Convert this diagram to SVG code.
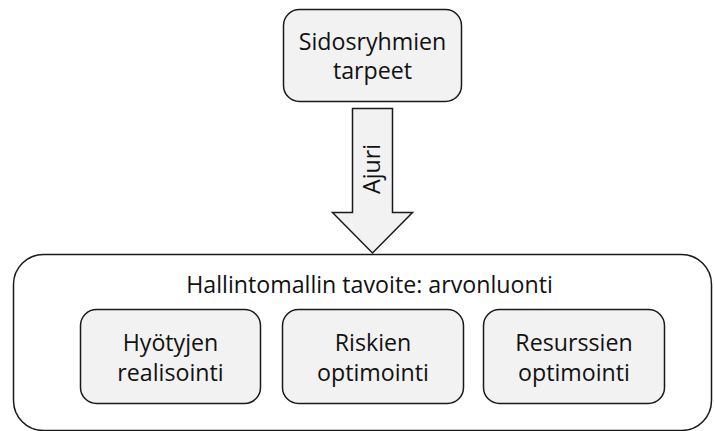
<svg xmlns="http://www.w3.org/2000/svg" width="714" height="431" viewBox="0 0 714 431">
<style>
.box{fill:#f2f2f2;stroke:#1a1a1a;stroke-width:1.5}
.outer{fill:#ffffff;stroke:#1a1a1a;stroke-width:1.5}
text{font-family:"Open Sans","Noto Sans",sans-serif;font-size:23.2px;fill:#111111;text-anchor:middle}
</style>
<rect width="714" height="431" fill="#ffffff"/>
<g id="hallintomalli">
<rect class="outer" x="13.5" y="254.5" width="698" height="176" rx="30" ry="30"/>
<text x="369.5" y="293">Hallintomallin tavoite: arvonluonti</text>
</g>
<g id="sidosryhmien-tarpeet">
<rect class="box" x="283.5" y="9.5" width="178" height="92" rx="16" ry="16"/>
<text x="372.5" y="50">Sidosryhmien</text>
<text x="372.5" y="79">tarpeet</text>
</g>
<g id="connectors">
<polygon class="box" points="352.5,108.5 392.5,108.5 392.5,212.5 412.5,212.5 372.5,253 332.5,212.5 352.5,212.5"/>
<text transform="translate(380,169) rotate(-90)">Ajuri</text>
</g>
<g id="hyotyjen-realisointi">
<rect class="box" x="80.5" y="309.5" width="180" height="94" rx="16" ry="16"/>
<text x="170.5" y="351">Hyötyjen</text>
<text x="170.5" y="381">realisointi</text>
</g>
<g id="riskien-optimointi">
<rect class="box" x="282.5" y="309.5" width="181" height="94" rx="16" ry="16"/>
<text x="373" y="351">Riskien</text>
<text x="373" y="381">optimointi</text>
</g>
<g id="resurssien-optimointi">
<rect class="box" x="483.5" y="309.5" width="181" height="94" rx="16" ry="16"/>
<text x="574" y="351">Resurssien</text>
<text x="574" y="381">optimointi</text>
</g>
</svg>
